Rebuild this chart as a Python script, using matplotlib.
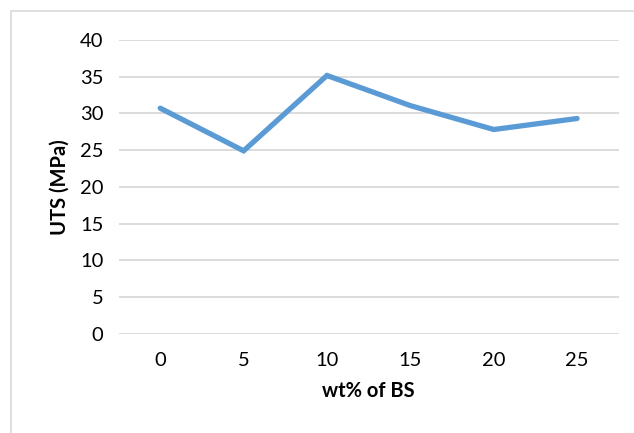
import matplotlib
matplotlib.use("Agg")
import matplotlib.pyplot as plt
from matplotlib.patches import Rectangle

# データ
categories = ["0", "5", "10", "15", "20", "25"]
uts_values = [30.7, 24.9, 35.15, 31.05, 27.8, 29.3]
y_ticks = [0, 5, 10, 15, 20, 25, 30, 35, 40]

plt.rcParams['font.family'] = ['Lato', 'DejaVu Sans']

fig = plt.figure(figsize=(6.34, 4.33), dpi=100)
ax = fig.add_axes([0.187, 0.229, 0.789, 0.679])

# 外枠
fig.patches.append(Rectangle((11 / 634, -0.1), 1.2, 1 - 10.7 / 433 + 0.1,
                             transform=fig.transFigure, fill=False,
                             edgecolor='#D9D9D9', linewidth=1.2))

x = list(range(len(categories)))
ax.plot(x, uts_values, color='#5B9BD5', linewidth=3.8, solid_capstyle='round',
        solid_joinstyle='miter', zorder=3)

ax.set_xlim(-0.5, len(categories) - 0.5)
ax.set_ylim(0, 40)
ax.set_yticks(y_ticks)
ax.set_xticks(x)
ax.set_xticklabels(categories)
ax.yaxis.grid(True, color='#D9D9D9', linewidth=1.3)
ax.set_axisbelow(True)
for s in ax.spines.values():
    s.set_visible(False)
ax.tick_params(axis='both', length=0, labelsize=14.5, colors='black')
ax.tick_params(axis='x', pad=13)
ax.tick_params(axis='y', pad=11)

ax.set_xlabel('wt% of BS', fontsize=14.5, fontweight='bold', labelpad=9)
ax.set_ylabel('UTS (MPa)', fontsize=14.5, fontweight='bold', labelpad=7)

plt.savefig('out.png', dpi=100)
plt.close()
